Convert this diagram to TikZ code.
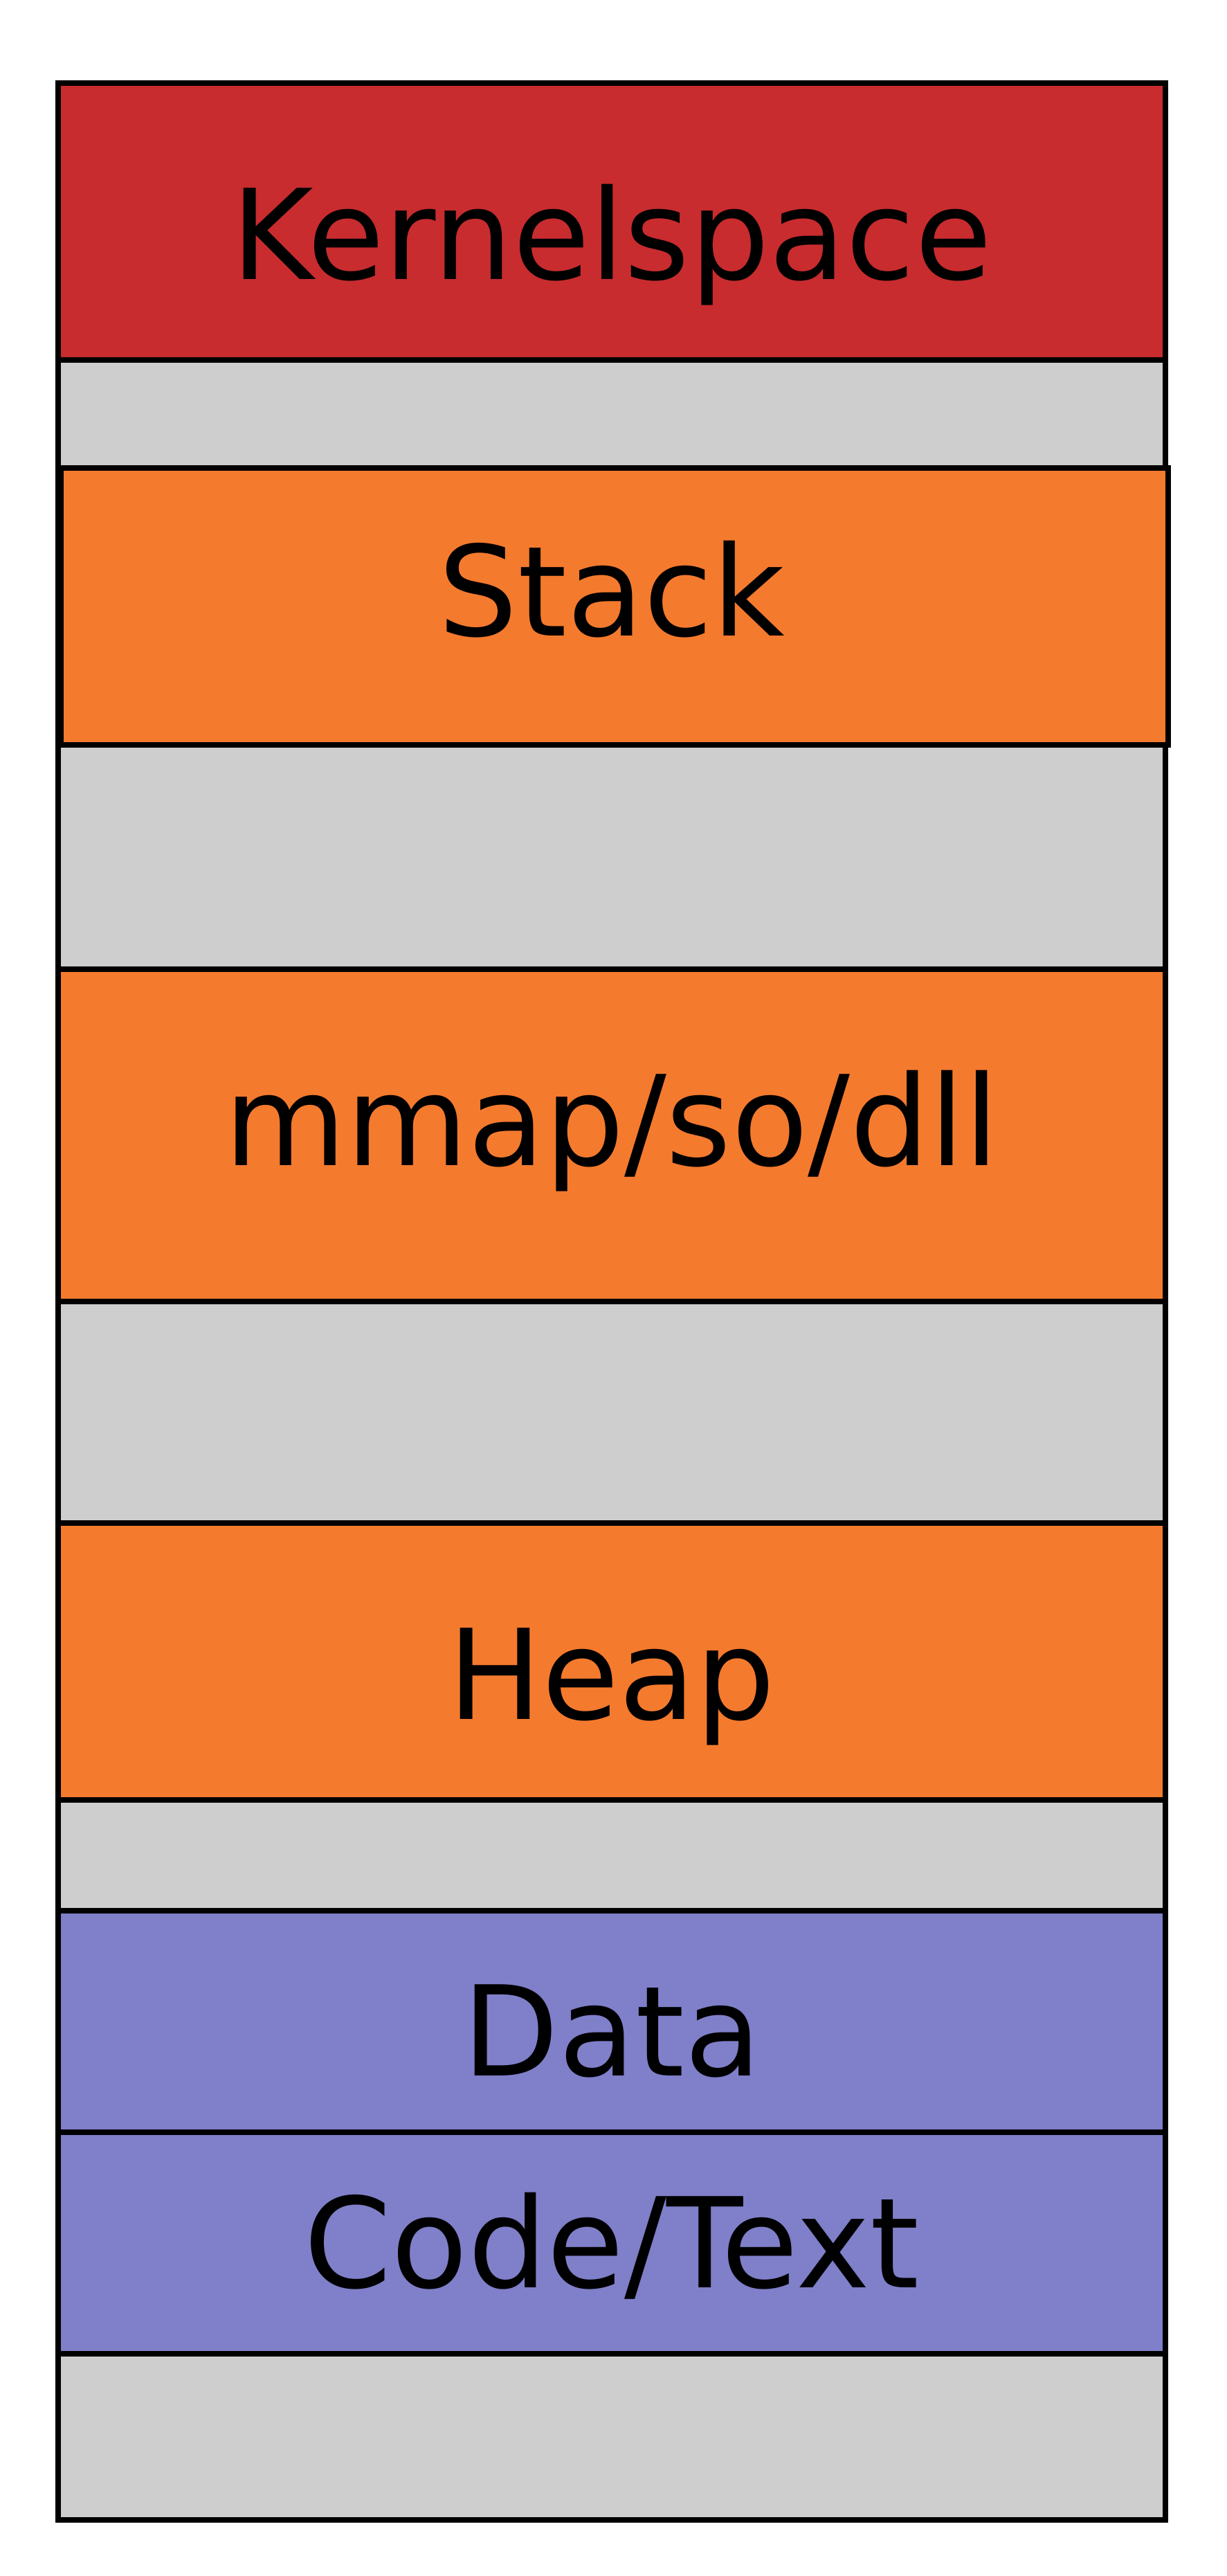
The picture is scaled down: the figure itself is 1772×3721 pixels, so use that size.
\documentclass[tikz,border=0pt]{standalone}
\usepackage{fontspec}
\setmainfont{DejaVu Sans}

\definecolor{kernred}{RGB}{200,44,46}
\definecolor{segorange}{RGB}{244,122,46}
\definecolor{freegray}{RGB}{206,206,206}
\definecolor{progblue}{RGB}{127,127,202}

\begin{document}
\begin{tikzpicture}[x=0.01cm, y=-0.01cm, line width=2.28pt,
    segment/.style={draw=black},
    seglabel/.style={anchor=base, inner sep=0pt, font=\fontsize{51.4}{60}\selectfont}]
  \useasboundingbox (0,0) rectangle (1772,3721);
  % Free space first
  \fill[freegray] (84,120) rectangle (1684,3640);
  % Segments
  \filldraw[segment, fill=kernred] (84,120) rectangle (1684,520);
  \filldraw[segment, fill=segorange] (84,1400) rectangle (1684,1880);
  \filldraw[segment, fill=segorange] (84,2200) rectangle (1684,2600);
  \filldraw[segment, fill=progblue] (84,2760) rectangle (1684,3080);
  \filldraw[segment, fill=progblue] (84,3080) rectangle (1684,3400);
  % Outer box
  \draw (84,120) rectangle (1684,3640);
  % Stack sits a little to the right
  \filldraw[segment, fill=segorange] (88,676) rectangle (1688,1076);
  % Labels
  \node[seglabel] (kernel) at (884,403) {Kernelspace};
  \node[seglabel] (stack) at (884,918) {Stack};
  \node[seglabel] (mmap) at (884,1683) {mmap/so/dll};
  \node[seglabel] (heap) at (884,2483) {Heap};
  \node[seglabel] (data) at (884,2998) {Data};
  \node[seglabel] (code) at (884,3304) {Code/Text};
\end{tikzpicture}
\end{document}
